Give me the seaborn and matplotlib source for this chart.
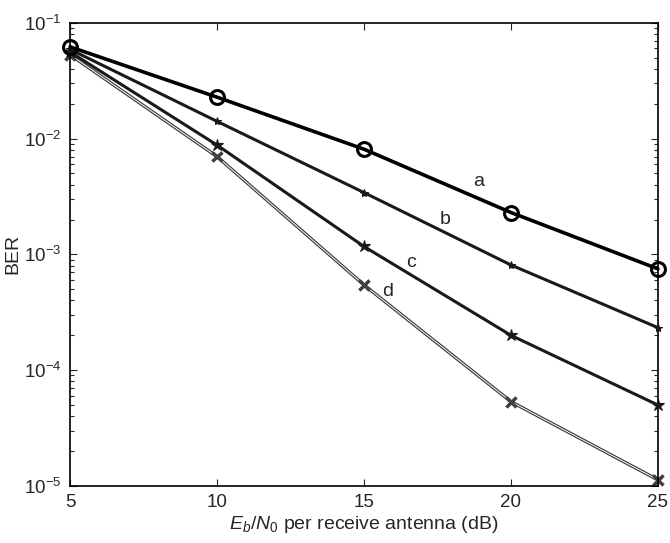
import numpy as np
import pandas as pd
import seaborn as sns
import matplotlib
matplotlib.use('Agg')
import matplotlib.pyplot as plt
import matplotlib.patheffects as pe
from matplotlib.ticker import LogLocator, NullFormatter

# values
ebno = [5, 10, 15, 20, 25]
ber_a = [0.062, 0.0228, 0.0081, 0.0023, 0.00075]
ber_b = [0.059, 0.0141, 0.00342, 0.00081, 0.000233]
ber_c = [0.056, 0.0088, 0.00117, 0.0002, 0.00005]
ber_d = [0.053, 0.0070, 0.000545, 0.0000535, 0.0000113]
curve_names = ['a', 'b', 'c', 'd']
label_x = [18.9, 17.75, 16.6, 15.8]
label_y = [0.00423, 0.00199, 0.000845, 0.000474]

sns.set_style('ticks')
plt.rcParams['font.family'] = ['Liberation Sans', 'DejaVu Sans']
plt.rcParams['mathtext.fontset'] = 'custom'
plt.rcParams['mathtext.it'] = 'Liberation Sans:italic'
plt.rcParams['mathtext.rm'] = 'Liberation Sans'

fig = plt.figure(figsize=(6.7, 5.43), dpi=100)
ax = fig.add_axes([0.1045, 0.105, 0.8775, 0.853])

# line styles per curve (scanned look: a thick, d hollow double line)
sns.lineplot(x=ebno, y=ber_a, ax=ax, color='black', lw=2.6, marker='o', markersize=10,
             markerfacecolor='none', markeredgecolor='black', markeredgewidth=2.2, clip_on=False, zorder=5)
sns.lineplot(x=ebno, y=ber_b, ax=ax, color='#1a1a1a', lw=2.2, marker='*', markersize=6,
             markeredgecolor='#1a1a1a', clip_on=False, zorder=4)
sns.lineplot(x=ebno, y=ber_c, ax=ax, color='#1a1a1a', lw=2.2, marker='*', markersize=9,
             markeredgecolor='#1a1a1a', markeredgewidth=0.8, clip_on=False, zorder=3)
sns.lineplot(x=ebno, y=ber_d, ax=ax, color='white', lw=0.7, marker='x', markersize=7,
             markeredgecolor='#444444', markeredgewidth=1.2, clip_on=False, zorder=2,
             path_effects=[pe.Stroke(linewidth=2.4, foreground='#3a3a3a'), pe.Normal()])

for name, lx, ly in zip(curve_names, label_x, label_y):
    ax.text(lx, ly, name, fontsize=14, ha='center', va='center')

ax.set_yscale('log')
ax.set_xlim(5, 25)
ax.set_ylim(1e-5, 1e-1)
ax.set_xticks([5, 10, 15, 20, 25])
ax.set_yticks([1e-5, 1e-4, 1e-3, 1e-2, 1e-1])
ax.yaxis.set_minor_locator(LogLocator(base=10, subs=np.arange(2, 10)))
ax.yaxis.set_minor_formatter(NullFormatter())
ax.tick_params(which='both', direction='in', top=True, right=True, labelsize=13.5, pad=6)
ax.tick_params(which='major', length=5, width=0.8)
ax.tick_params(which='minor', length=3, width=0.8)
for s in ax.spines.values():
    s.set_linewidth(1.2)
    s.set_color('black')

ax.set_xlabel(r'$E_b/N_0$ per receive antenna (dB)', fontsize=14, labelpad=2)
ax.set_ylabel('BER', fontsize=14, labelpad=2)

fig.savefig('out.png', dpi=100)
